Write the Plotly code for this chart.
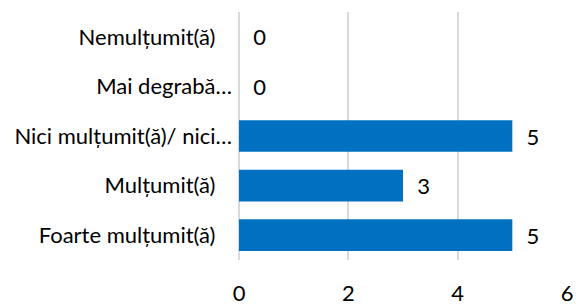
import plotly.graph_objects as go

categories = ["Foarte mulțumit(ă)", "Mulțumit(ă)", "Nici mulțumit(ă)/ nici…", "Mai degrabă…", "Nemulțumit(ă)"]
values = [5, 3, 5, 0, 0]
x_ticks = [0, 2, 4, 6]

# Excel right-aligns labels leaving room after non-truncated ones
tick_text = [c if c.endswith("…") else c + "\u2002\u2005" for c in categories]

fig = go.Figure(go.Bar(
    y=categories, x=values, orientation="h",
    marker=dict(color="#0070C0", line=dict(width=0)),
    texttemplate="  %{x}", textposition="outside",
    textfont=dict(family="Lato", size=22, color="#000000"),
    cliponaxis=False,
))
fig.update_layout(
    width=576, height=307,
    margin=dict(l=239, r=9, t=12, b=47),
    paper_bgcolor="white", plot_bgcolor="white",
    bargap=0.36, showlegend=False,
    font=dict(family="Lato", color="#000000"),
)
fig.update_xaxes(range=[0, 6], tickvals=x_ticks, showgrid=True, gridcolor="#D9D9D9", gridwidth=1.5,
                 zeroline=True, zerolinecolor="#D9D9D9", zerolinewidth=1.5, showline=False,
                 ticks="outside", ticklen=14, tickcolor="rgba(0,0,0,0)", automargin=False,
                 tickfont=dict(family="Lato", size=22, color="#000000"))
fig.update_yaxes(categoryorder="array", categoryarray=categories, tickvals=categories, ticktext=tick_text,
                 showgrid=False, zeroline=False,
                 showline=False, ticks="", ticklabelstandoff=6, automargin=False,
                 tickfont=dict(family="Lato", size=22, color="#000000"))
fig.write_html("out.html", config={"displayModeBar": False},
               post_script="document.body.style.margin='0';document.body.style.padding='0';")
